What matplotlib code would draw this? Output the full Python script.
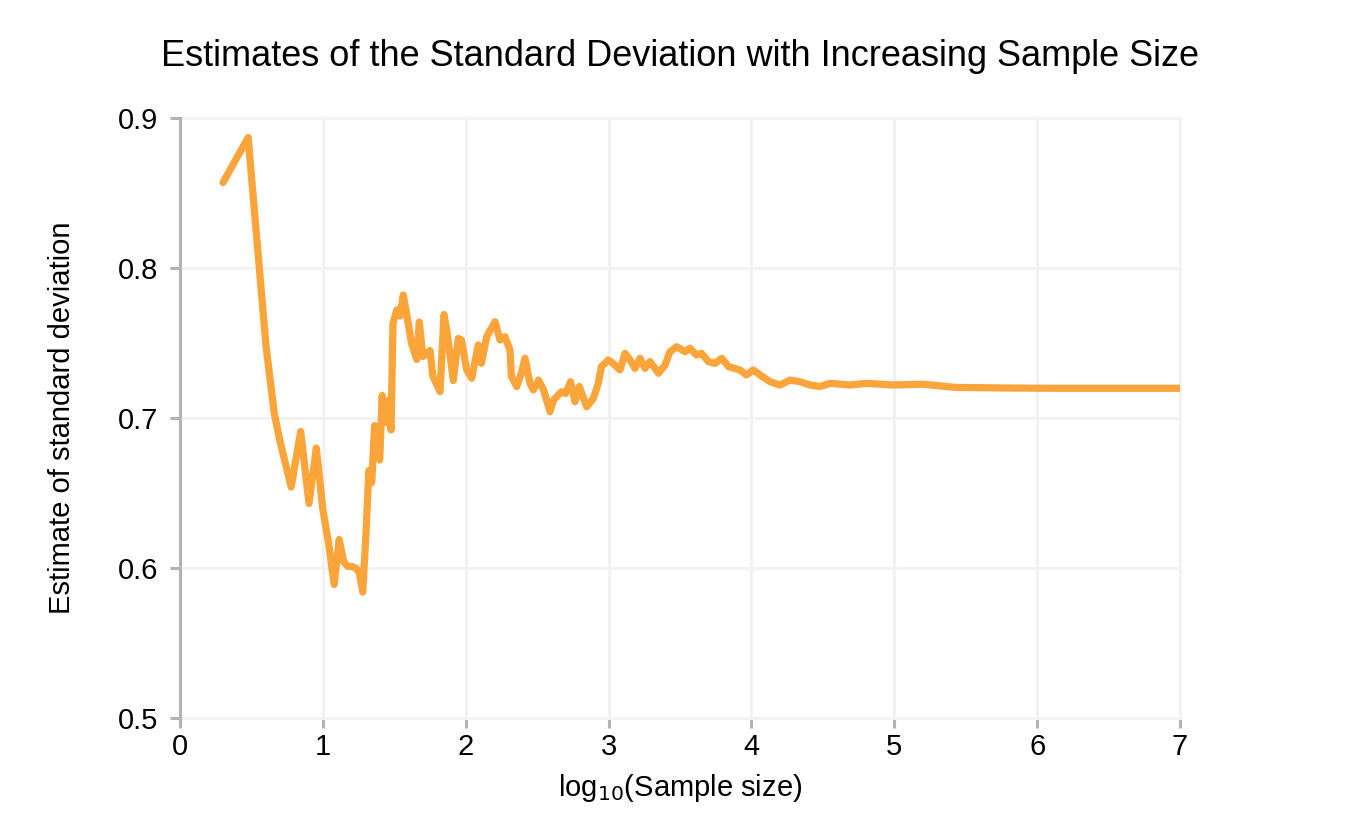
import matplotlib
matplotlib.use("Agg")
import matplotlib.pyplot as plt

log_n = [0.301, 0.477, 0.602, 0.66, 0.699, 0.778, 0.845, 0.903, 0.954, 1.0,
         1.041, 1.079, 1.114, 1.146, 1.176, 1.204, 1.23, 1.255, 1.279, 1.301,
         1.322, 1.342, 1.362, 1.38, 1.398, 1.415, 1.431, 1.447, 1.462, 1.477,
         1.491, 1.517, 1.54, 1.563, 1.59, 1.62, 1.657, 1.675, 1.70, 1.75,
         1.77, 1.82, 1.848, 1.87, 1.913, 1.948, 1.97, 2.007, 2.042, 2.088,
         2.11, 2.147, 2.205, 2.24, 2.275, 2.31, 2.32, 2.357, 2.39, 2.415,
         2.45, 2.473, 2.51, 2.545, 2.59, 2.615, 2.67, 2.70, 2.734, 2.765,
         2.795, 2.847, 2.893, 2.928, 2.95, 2.998, 3.03, 3.08, 3.115, 3.15,
         3.185, 3.22, 3.255, 3.29, 3.35, 3.395, 3.43, 3.477, 3.535, 3.57,
         3.615, 3.65, 3.70, 3.745, 3.792, 3.84, 3.92, 3.965, 4.013, 4.06,
         4.13, 4.2, 4.27, 4.34, 4.41, 4.48, 4.55, 4.69, 4.807, 4.99,
         5.20, 5.43, 5.78, 6.13, 6.5, 7.0]
sd_est = [0.857, 0.887, 0.748, 0.703, 0.685, 0.654, 0.691, 0.643, 0.680, 0.639,
          0.616, 0.589, 0.619, 0.604, 0.601, 0.601, 0.600, 0.597, 0.584, 0.621,
          0.665, 0.657, 0.695, 0.680, 0.672, 0.715, 0.700, 0.697, 0.712, 0.692,
          0.763, 0.772, 0.768, 0.782, 0.7675, 0.750, 0.739, 0.764, 0.741, 0.745,
          0.728, 0.7175, 0.769, 0.757, 0.725, 0.753, 0.752, 0.732, 0.7265, 0.7487,
          0.7365, 0.7542, 0.7642, 0.752, 0.7542, 0.7453, 0.7276, 0.721, 0.730, 0.7398,
          0.7231, 0.7187, 0.7253, 0.7187, 0.7042, 0.712, 0.7175, 0.7164, 0.7242, 0.7109,
          0.721, 0.7075, 0.713, 0.7231, 0.7342, 0.7387, 0.7365, 0.732, 0.7431, 0.7387,
          0.7331, 0.7398, 0.7331, 0.7376, 0.7298, 0.7353, 0.7442, 0.7475, 0.7442, 0.7465,
          0.742, 0.7431, 0.7376, 0.7364, 0.7398, 0.7342, 0.732, 0.7287, 0.732, 0.7287,
          0.7242, 0.722, 0.7253, 0.7242, 0.722, 0.721, 0.7231, 0.722, 0.7231, 0.722,
          0.7225, 0.7204, 0.7200, 0.7198, 0.7198, 0.7198]

x_ticks = [0, 1, 2, 3, 4, 5, 6, 7]
y_ticks = [0.5, 0.6, 0.7, 0.8, 0.9]
y_tick_labels = ["0.5", "0.6", "0.7", "0.8", "0.9"]

plt.rcParams['font.family'] = ['Liberation Sans', 'DejaVu Sans']

fig = plt.figure(figsize=(13.59, 8.39), dpi=100)
ax = fig.add_axes([180/1359, 1 - 718/839, 1000/1359, 600/839])

ax.plot(log_n, sd_est, color='#FAA43A', lw=5.2, solid_capstyle='round',
        solid_joinstyle='round', zorder=3)

ax.set_xlim(0, 7)
ax.set_ylim(0.5, 0.9)
ax.set_xticks(x_ticks)
ax.set_xticklabels([str(t) for t in x_ticks])
ax.set_yticks(y_ticks)
ax.set_yticklabels(y_tick_labels)

ax.grid(True, color='#F2F2F2', lw=2.2, zorder=0)
ax.set_axisbelow(True)
for gl in ax.get_xgridlines() + ax.get_ygridlines():
    gl.set_clip_on(False)
for s in ['top', 'right', 'bottom']:
    ax.spines[s].set_visible(False)
ax.spines['left'].set_color('#B3B3B3')
ax.spines['left'].set_linewidth(2.2)
ax.spines['left'].set_zorder(2.5)
ax.tick_params(axis='both', colors='#B3B3B3', width=2.2, length=7,
               labelsize=21, labelcolor='black')
ax.tick_params(axis='x', pad=4)
ax.tick_params(axis='y', pad=9)

ax.set_xlabel('log$_{10}$(Sample size)', fontsize=21, labelpad=8)
ax.set_ylabel('Estimate of standard deviation', fontsize=21, labelpad=30)
fig.text(680/1359, 1 - 57/839, 'Estimates of the Standard Deviation with Increasing Sample Size',
         ha='center', va='center', fontsize=26)

fig.savefig('out.png', dpi=100)
